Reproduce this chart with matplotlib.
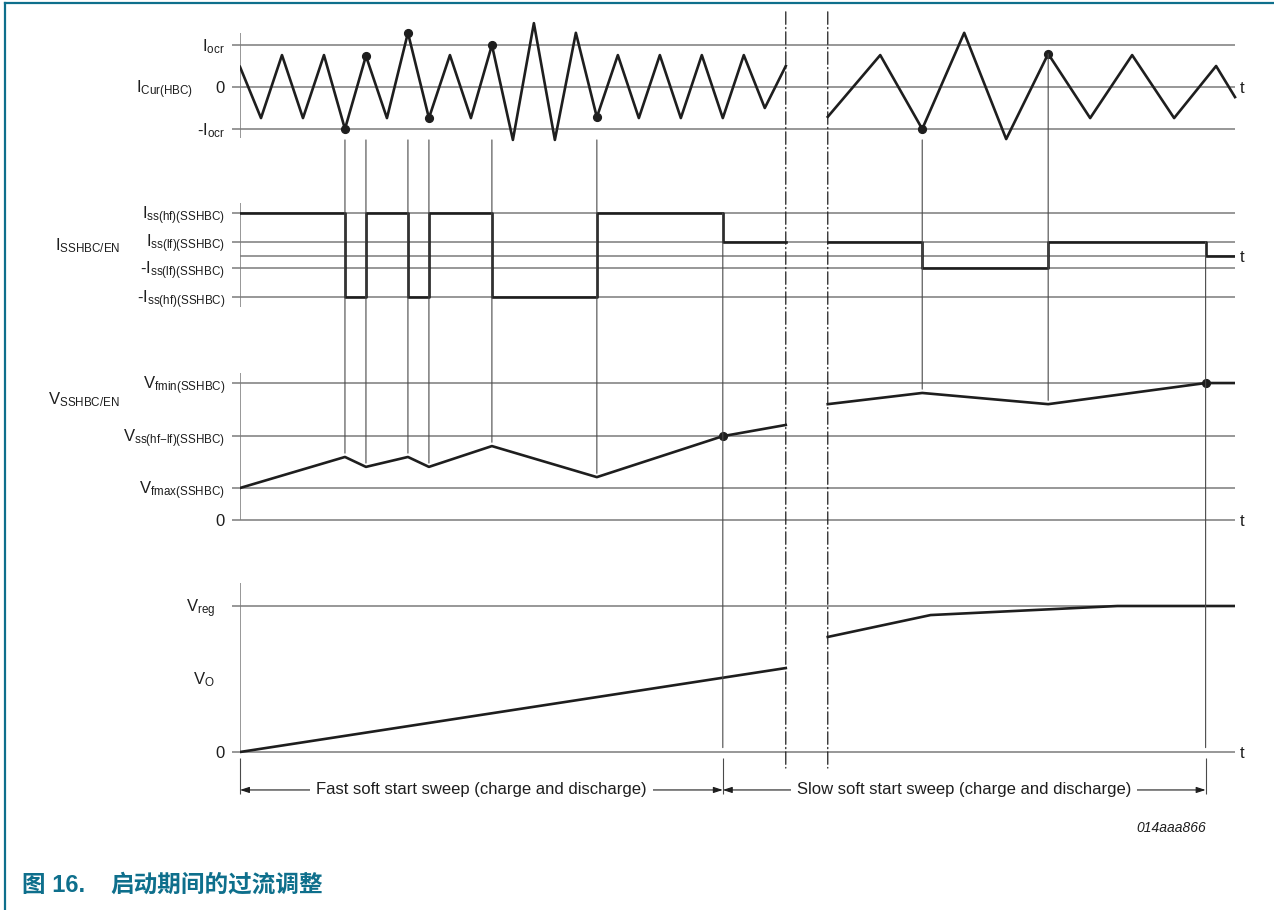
import matplotlib
matplotlib.use('Agg')
import matplotlib.pyplot as plt
from matplotlib.patches import ConnectionPatch
from matplotlib.lines import Line2D

plt.rcParams['font.family'] = ['Liberation Sans', 'Noto Sans CJK SC']
plt.rcParams['mathtext.fontset'] = 'custom'
plt.rcParams['mathtext.rm'] = 'Liberation Sans'
plt.rcParams['mathtext.it'] = 'Liberation Sans:italic'
plt.rcParams['mathtext.bf'] = 'Liberation Sans:bold'

# time axis, in units of a fast half-period
T_END = 47.4
T_FAST_END = 26     # break (dash-dot) lines
T_SLOW_START = 28
T_SWITCH = 23       # fast -> slow sweep
T_DONE = 46         # end of slow sweep

# panel 1: half bridge current, in units of Iocr
cur_fast_t = [0, 1, 2, 3, 4, 5, 6, 7, 8, 9, 10, 11, 12, 13, 14, 15, 16, 17, 18,
              19, 20, 21, 22, 23, 24, 25, 26]
cur_fast_v = [0.48, -0.74, 0.76, -0.74, 0.76, -1.0, 0.74, -0.74, 1.29, -0.74,
              0.76, -0.74, 1.0, -1.26, 1.52, -1.26, 1.29, -0.72, 0.76, -0.74,
              0.76, -0.74, 0.76, -0.74, 0.76, -0.5, 0.5]
cur_slow_t = [28, 30.5, 32.5, 34.5, 36.5, 38.5, 40.5, 42.5, 44.5, 46.5, 47.4]
cur_slow_v = [-0.71, 0.76, -1.0, 1.29, -1.24, 0.79, -0.74, 0.76, -0.74, 0.5, -0.24]
cur_dot_t = [5, 6, 8, 9, 12, 17, 32.5, 38.5]
cur_dot_v = [-1.0, 0.74, 1.29, -0.74, 1.0, -0.72, -1.0, 0.79]
cur_levels = [1.0, 0.0, -1.0]

# panel 2: soft start current levels
ss_levels = {'hf': 1.0, 'lf': 0.33, '0': 0.0, '-lf': -0.28, '-hf': -0.95}
ss_fast_t = [0, 5, 6, 8, 9, 12, 17, 23, 26]
ss_fast_lv = ['hf', '-hf', 'hf', '-hf', 'hf', '-hf', 'hf', 'lf', 'lf']
ss_slow_t = [28, 32.5, 38.5, 46, 47.4]
ss_slow_lv = ['lf', '-lf', 'lf', '0', '0']

# panel 3: soft start voltage
vss_levels = {'fmin': 4.28, 'hflf': 2.62, 'fmax': 1.0, '0': 0.0}
vss_fast_t = [0, 5, 6, 8, 9, 12, 17, 23, 26]
vss_fast_v = [1.0, 1.97, 1.66, 1.97, 1.66, 2.31, 1.34, 2.62, 2.97]
vss_slow_t = [28, 32.5, 38.5, 46, 47.4]
vss_slow_v = [3.62, 3.97, 3.62, 4.28, 4.28]
vss_dot_t = [23, 46]
vss_dot_v = [2.62, 4.28]

# panel 4: output voltage, in units of Vreg
vo_fast_t = [0, 26]
vo_fast_v = [0.0, 0.575]
vo_slow_t = [28, 32.9, 41.8, 47.4]
vo_slow_v = [0.788, 0.938, 1.0, 1.0]

INK = '#1e1e1e'
GRID = '#7a7a7a'
THIN = '#4a4a4a'
TEAL = '#0e6f8c'
FS = 12

W, H = 1274, 910
X0, X1 = 240, 1235

fig = plt.figure(figsize=(W / 100, H / 100), dpi=100)


def make_panel(v_a, y_a, v_b, y_b, lo, hi):
    # place the axes so that two levels land on given pixel rows
    ax = fig.add_axes([0, 0, 1, 1])
    k = (y_b - y_a) / (v_b - v_a)
    top = y_a + (hi - v_a) * k
    bot = y_a + (lo - v_a) * k
    ax.set_position([X0 / W, 1 - bot / H, (X1 - X0) / W, (bot - top) / H])
    ax.set_xlim(0, T_END)
    ax.set_ylim(lo, hi)
    ax.axis('off')
    return ax


def label(ax, t, v, s, ha='right', dy=-4.3, **kw):
    ax.annotate(s, (t, v), xytext=(0, dy), textcoords='offset points',
                ha=ha, va='baseline', fontsize=FS, color=INK,
                annotation_clip=False, **kw)


def link(axA, pA, axB, pB, **kw):
    style = dict(color=THIN, lw=0.8)
    style.update(kw)
    con = ConnectionPatch(xyA=pA, coordsA='data', axesA=axA,
                          xyB=pB, coordsB='data', axesB=axB, **style)
    fig.add_artist(con)


ax1 = make_panel(0, 87, 1, 45, -1.5, 1.85)
ax2 = make_panel(0, 256, 1, 213, -1.3, 1.3)
ax3 = make_panel(0, 520, 1, 488, -0.4, 4.9)
ax4 = make_panel(0, 752, 1, 606, -0.35, 1.2)

T_LAB = -0.71
T_T = 47.62

# ---- panel 1
ax1.hlines(cur_levels, -0.4, T_END, color=GRID, lw=1.1, clip_on=False)
ax1.vlines(0, -1.21, 1.29, color=GRID, lw=1.1)
ax1.plot(cur_fast_t, cur_fast_v, color=INK, lw=1.9, zorder=3)
ax1.plot(cur_slow_t, cur_slow_v, color=INK, lw=1.9, zorder=3, clip_on=False)
ax1.plot(cur_dot_t, cur_dot_v, 'o', ms=5.6, color=INK, zorder=4)
label(ax1, T_LAB, 1.0, r'I$_{\rm ocr}$')
label(ax1, T_LAB, 0.0, '0')
label(ax1, T_LAB, -1.0, r'-I$_{\rm ocr}$')
label(ax1, -2.24, 0.0, r'I$_{\rm Cur(HBC)}$')
label(ax1, T_T, 0.0, 't', ha='left')

# ---- panel 2
for key in ['hf', 'lf', '-lf', '-hf']:
    ax2.hlines(ss_levels[key], -0.4, T_END, color=GRID, lw=1.1, clip_on=False)
ax2.hlines(ss_levels['0'], 0, T_END, color=GRID, lw=1.1)
ax2.vlines(0, -1.19, 1.23, color=GRID, lw=1.1)
ax2.plot(ss_fast_t, [ss_levels[k] for k in ss_fast_lv], color=INK, lw=1.9,
         drawstyle='steps-post', zorder=3)
ax2.plot(ss_slow_t, [ss_levels[k] for k in ss_slow_lv], color=INK, lw=1.9,
         drawstyle='steps-post', zorder=3)
label(ax2, T_LAB, ss_levels['hf'], r'I$_{\rm ss(hf)(SSHBC)}$')
label(ax2, T_LAB, ss_levels['lf'], r'I$_{\rm ss(lf)(SSHBC)}$')
label(ax2, T_LAB, ss_levels['-lf'], r'-I$_{\rm ss(lf)(SSHBC)}$')
label(ax2, T_LAB, ss_levels['-hf'], r'-I$_{\rm ss(hf)(SSHBC)}$')
label(ax2, -5.71, 0.26, r'I$_{\rm SSHBC/EN}$')
label(ax2, T_T, ss_levels['0'], 't', ha='left')

# ---- panel 3
ax3.hlines(list(vss_levels.values()), -0.4, T_END, color=GRID, lw=1.1,
           clip_on=False)
ax3.vlines(0, 0, 4.6, color=GRID, lw=1.1)
ax3.plot(vss_fast_t, vss_fast_v, color=INK, lw=1.9, zorder=3)
ax3.plot(vss_slow_t, vss_slow_v, color=INK, lw=1.9, zorder=3)
ax3.plot(vss_dot_t, vss_dot_v, 'o', ms=5.6, color=INK, zorder=4)
label(ax3, T_LAB, vss_levels['fmin'], r'V$_{\rm fmin(SSHBC)}$')
label(ax3, T_LAB, vss_levels['hflf'], r'V$_{\rm ss(hf{-}lf)(SSHBC)}$')
label(ax3, T_LAB, vss_levels['fmax'], r'V$_{\rm fmax(SSHBC)}$')
label(ax3, T_LAB, 0.0, '0')
label(ax3, -5.71, 3.8, r'V$_{\rm SSHBC/EN}$')
label(ax3, T_T, 0.0, 't', ha='left')

# ---- panel 4
ax4.hlines([1.0, 0.0], -0.4, T_END, color=GRID, lw=1.1, clip_on=False)
ax4.vlines(0, 0, 1.16, color=GRID, lw=1.1)
ax4.plot(vo_fast_t, vo_fast_v, color=INK, lw=1.9, zorder=3)
ax4.plot(vo_slow_t, vo_slow_v, color=INK, lw=1.9, zorder=3)
label(ax4, -1.19, 1.0, r'V$_{\rm reg}$')
label(ax4, -1.19, 0.507, r'V$_{\rm O}$')
label(ax4, T_LAB, 0.0, '0')
label(ax4, T_T, 0.0, 't', ha='left')

# ---- vertical links between the panels
for t, v3 in zip(cur_dot_t, [1.97, 1.66, 1.97, 1.66, 2.31, 1.34, 3.97, 3.62]):
    v1 = 0.79 if t == 38.5 else -1.26
    link(ax1, (t, v1), ax3, (t, v3 + 0.12))
link(ax2, (T_SWITCH, ss_levels['hf']), ax4, (T_SWITCH, 0.03))
link(ax2, (T_DONE, ss_levels['lf']), ax4, (T_DONE, 0.03))
for t in [T_FAST_END, T_SLOW_START]:
    link(ax1, (t, 1.79), ax4, (t, -0.11), color=INK, lw=0.9,
         linestyle=(0, (10, 2.5, 1, 2.5)))

# ---- sweep arrows
Y_ARR = -0.26
ax4.vlines([0, T_SWITCH, T_DONE], -0.29, -0.04, color=THIN, lw=0.8,
           clip_on=False)
for a, b, txt in [(0, T_SWITCH, 'Fast soft start sweep (charge and discharge)'),
                  (T_SWITCH, T_DONE, 'Slow soft start sweep (charge and discharge)')]:
    ax4.annotate('', xy=(b, Y_ARR), xytext=(a, Y_ARR), annotation_clip=False,
                 arrowprops=dict(arrowstyle='<|-|>,head_length=0.55,head_width=0.18',
                                 color=INK, lw=0.8, shrinkA=0, shrinkB=0))
    ax4.text((a + b) / 2, Y_ARR, txt, ha='center', va='center', fontsize=FS,
             color=INK, clip_on=False,
             bbox=dict(boxstyle='square,pad=0.35', fc='white', ec='none'))

fig.text(1206 / W, 1 - 828 / H, '014aaa866', ha='right', va='center',
         fontsize=10, style='italic', color=INK)

# ---- caption and frame
fig.text(22 / W, 1 - 885 / H, '图 16.', ha='left', va='center', fontsize=17,
         weight='bold', color=TEAL)
fig.text(110 / W, 1 - 885 / H, '启动期间的过流调整', ha='left', va='center',
         fontsize=17, weight='bold', color=TEAL)
fig.add_artist(Line2D([5 / W, 5 / W], [0, 1 - 3 / H], color=TEAL, lw=1.6))
fig.add_artist(Line2D([5 / W, 1], [1 - 3 / H, 1 - 3 / H], color=TEAL, lw=1.6))

fig.savefig('out.png', dpi=100, facecolor='white')
